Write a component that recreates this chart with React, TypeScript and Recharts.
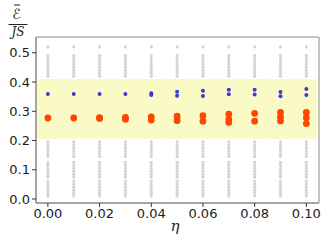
import {
  ScatterChart,
  Scatter,
  XAxis,
  YAxis,
  ReferenceArea,
  Label,
} from "recharts";

const ETA = [0, 0.01, 0.02, 0.03, 0.04, 0.05, 0.06, 0.07, 0.08, 0.09, 0.1];

// gray background samples (same levels in every column)
const GRAY_LEVELS = [
  0.52, 0.49, 0.48, 0.47, 0.46, 0.45, 0.44, 0.43, 0.42,
  0.195, 0.185, 0.175, 0.165, 0.155, 0.145,
  0.125, 0.115, 0.105, 0.095, 0.085, 0.075, 0.06, 0.05, 0.04, 0.03, 0.02, 0.01,
];

const BLUE = [
  [0.359],
  [0.359],
  [0.359],
  [0.359],
  [0.362, 0.356],
  [0.367, 0.353],
  [0.37, 0.352],
  [0.374, 0.358],
  [0.374, 0.357],
  [0.366, 0.351],
  [0.376, 0.356],
];

const RED = [
  [0.277],
  [0.277],
  [0.278, 0.275],
  [0.279, 0.273],
  [0.281, 0.27],
  [0.283, 0.268],
  [0.285, 0.266],
  [0.29, 0.272, 0.262],
  [0.293, 0.266],
  [0.296, 0.28, 0.267],
  [0.296, 0.278, 0.258],
];

const X_TICKS = [0, 0.02, 0.04, 0.06, 0.08, 0.1];
const Y_TICKS = [0, 0.1, 0.2, 0.3, 0.4, 0.5];

const BAND = { lo: 0.205, hi: 0.41 };

const X_DOMAIN = [-0.0046, 0.1049];
const Y_DOMAIN = [-0.0137, 0.554];

const grayData = ETA.flatMap((x) => GRAY_LEVELS.map((y) => ({ x, y })));
const blueData = ETA.flatMap((x, i) => BLUE[i].map((y) => ({ x, y })));
const redData = ETA.flatMap((x, i) => RED[i].map((y) => ({ x, y })));

const dot = (r: number, fill: string, opacity = 1) => (props: any) => (
  <circle cx={props.cx} cy={props.cy} r={r} fill={fill} fillOpacity={opacity} />
);

const tickStyle = { fontFamily: "DejaVu Sans", fontSize: 13, fill: "#222" };

export default function App() {
  return (
    <div style={{ position: "fixed", left: 0, top: 0, background: "#fff" }}>
      <ScatterChart
        width={332}
        height={240}
        margin={{ top: 37, right: 13, bottom: 7, left: 6 }}
      >
        <ReferenceArea
          x1={X_DOMAIN[0]}
          x2={0.1041}
          y1={BAND.lo}
          y2={BAND.hi}
          fill="#fafac6"
          fillOpacity={1}
          stroke="none"
          ifOverflow="hidden"
        />
        <XAxis
          type="number"
          dataKey="x"
          domain={X_DOMAIN}
          allowDataOverflow
          ticks={X_TICKS}
          tickFormatter={(v: number) => v.toFixed(2)}
          tick={tickStyle}
          tickSize={4}
          tickLine={{ stroke: "#333" }}
          axisLine={{ stroke: "#888" }}
          height={30}
        >
          <Label
            content={() => (
              <text
                x={175}
                y={231}
                textAnchor="middle"
                fontFamily="DejaVu Serif"
                fontStyle="italic"
                fontSize={15}
                fill="#222"
              >
                η
              </text>
            )}
          />
        </XAxis>
        <YAxis
          type="number"
          dataKey="y"
          domain={Y_DOMAIN}
          allowDataOverflow
          ticks={Y_TICKS}
          tickFormatter={(v: number) => v.toFixed(1)}
          tick={tickStyle}
          tickSize={4}
          tickLine={{ stroke: "#333" }}
          axisLine={{ stroke: "#888" }}
          width={30}
        >
          <Label
            content={() => (
              <g fill="#222">
                <line x1={14} x2={20} y1={5} y2={5} stroke="#222" strokeWidth={1} />
                <text
                  x={16.5}
                  y={18.5}
                  textAnchor="middle"
                  fontSize={14}
                  fontFamily="DejaVu Sans"
                >
                  ℰ
                </text>
                <line x1={8.5} x2={27.5} y1={24.5} y2={24.5} stroke="#222" strokeWidth={1} />
                <text
                  x={18}
                  y={36}
                  textAnchor="middle"
                  fontSize={12}
                  fontFamily="DejaVu Serif"
                  fontStyle="italic"
                >
                  JS
                </text>
              </g>
            )}
          />
        </YAxis>
        <Scatter
          data={grayData}
          shape={dot(1.6, "#d3d3d3")}
          isAnimationActive={false}
        />
        <Scatter
          data={blueData}
          shape={dot(2, "#3b3bd0")}
          isAnimationActive={false}
        />
        <Scatter
          data={redData}
          shape={dot(3.4, "#ff4500")}
          isAnimationActive={false}
        />
        <ReferenceArea
          x1={X_DOMAIN[0]}
          x2={X_DOMAIN[1]}
          y1={Y_DOMAIN[0]}
          y2={Y_DOMAIN[1]}
          fill="none"
          stroke="#888"
          ifOverflow="visible"
        />
      </ScatterChart>
    </div>
  );
}
